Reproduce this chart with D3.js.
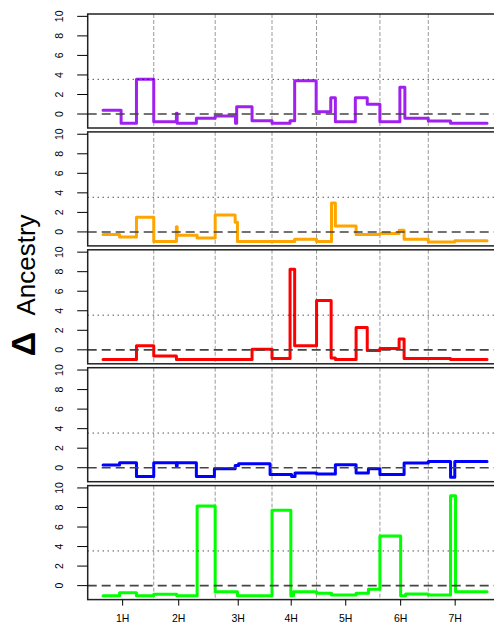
<!DOCTYPE html>
<html>
<head>
<meta charset="utf-8">
<script src="https://cdn.jsdelivr.net/npm/d3@7"></script>
<style>
html,body{margin:0;padding:0;background:#fff;}
svg{display:block;}
text{font-family:"Liberation Sans",Arial,Helvetica,sans-serif;}
</style>
</head>
<body>
<svg id="chart" width="494" height="626"></svg>
<script>
// ---- data ----
const chromosomes = ["1H","2H","3H","4H","5H","6H","7H"];
const chromTicks = [51,197,352,490,632,775,917];          // label positions (genome units)
const chromBounds = [132,292,440,556,721,847];            // boundaries between chromosomes
const genomeEnd = 1000;
const yTicks = [0,2,4,6,8,10];
const threshold = 3.55;
const seriesColors = ["#A020F0","#FFA500","#FF0000","#0000FF","#00FF00"];

// each step: [start position, value]; the last step runs to genomeEnd
const purple = [[0,0.38],[47,-0.95],[87,3.55],[132,-0.79],[191,0.07],[193,-0.95],[243,-0.44],[292,-0.2],[345,-0.95],[348,0.75],[388,-0.68],[440,-0.95],[487,-0.68],[499,3.41],[555,0.24],[593,1.67],[605,-0.79],[657,1.67],[688,0.99],[721,-0.79],[773,2.73],[786,-0.44],[847,-0.72],[905,-0.95]];
const orange = [[0,-0.27],[43,-0.52],[87,1.5],[132,-0.97],[191,0.52],[193,-0.34],[245,-0.62],[292,1.74],[344,1.0],[350,-0.97],[499,-0.76],[556,-0.97],[595,2.96],[605,0.6],[659,-0.27],[721,-0.17],[771,0.18],[784,-0.76],[847,-1.04],[916,-0.9]];
const red = [[0,-1.0],[87,0.41],[132,-0.62],[191,-1.0],[388,0.07],[440,-0.9],[487,8.24],[499,0.41],[556,5.04],[594,-0.83],[605,-1.0],[659,2.28],[688,-0.07],[721,0.14],[771,1.1],[784,-0.9],[905,-1.0]];
const blue = [[0,0.27],[43,0.52],[87,-0.9],[132,0.52],[191,0.17],[193,0.52],[243,-0.9],[290,-0.1],[344,0.24],[353,0.41],[435,-0.69],[491,-0.9],[500,-0.55],[556,-0.65],[605,0.31],[659,-0.55],[691,-0.1],[721,-0.69],[784,0.48],[847,0.65],[905,-0.97],[916,0.65]];
const green = [[0,-1.03],[43,-0.72],[87,-1.03],[132,-0.89],[192,-1.03],[245,8.14],[292,-0.62],[350,-1.03],[440,7.72],[489,-1.03],[496,-0.62],[556,-0.79],[595,-0.97],[659,-0.79],[691,-0.38],[721,5.07],[775,-1.03],[788,-0.86],[847,-0.97],[905,9.2],[918,-0.62]];
const allSeries = [purple, orange, red, blue, green];

// ---- layout ----
const svg = d3.select("#chart");
const left = 87.7, right = 502.4;
const panelTop0 = 14, panelH = 114, panelStep = 117.9;
const x = d3.scaleLinear().domain([-40, 1040]).range([left, right]);
const yDomain = [-1.43, 10.24];

allSeries.forEach((steps, i) => {
  const top = panelTop0 + i * panelStep;
  const bottom = top + panelH;
  const y = d3.scaleLinear().domain(yDomain).range([bottom, top]);
  const g = svg.append("g");

  // chromosome boundaries
  g.selectAll("line.vb").data(chromBounds).enter().append("line")
    .attr("x1", d => x(d)).attr("x2", d => x(d))
    .attr("y1", top).attr("y2", bottom)
    .attr("stroke", "#999").attr("stroke-width", 1)
    .attr("stroke-dasharray", "4,2");

  // step line
  const pts = steps.map(s => [s[0], s[1]]);
  pts.push([genomeEnd, steps[steps.length - 1][1]]);
  const line = d3.line().x(d => x(d[0])).y(d => y(d[1])).curve(d3.curveStepAfter);
  g.append("path").datum(pts).attr("d", line)
    .attr("fill", "none").attr("stroke", seriesColors[i])
    .attr("stroke-width", 3).attr("stroke-linejoin", "round").attr("stroke-linecap", "round");

  // reference lines
  g.append("line").attr("x1", left).attr("x2", right)
    .attr("y1", y(0)).attr("y2", y(0))
    .attr("stroke", "#444").attr("stroke-width", 1.6).attr("stroke-dasharray", "9,5");
  g.append("line").attr("x1", left).attr("x2", right)
    .attr("y1", y(threshold)).attr("y2", y(threshold))
    .attr("stroke", "#000").attr("stroke-width", 1).attr("stroke-dasharray", "1,4");

  // box
  g.append("rect").attr("x", left).attr("y", top)
    .attr("width", right - left).attr("height", panelH)
    .attr("fill", "none").attr("stroke", "#222").attr("stroke-width", 1.5);

  // y axis
  const ax = g.append("g");
  yTicks.forEach(t => {
    ax.append("line").attr("x1", left - 10.5).attr("x2", left)
      .attr("y1", y(t)).attr("y2", y(t)).attr("stroke", "#000").attr("stroke-width", 1);
    ax.append("text")
      .attr("transform", `translate(${left - 25},${y(t)}) rotate(-90)`)
      .attr("text-anchor", "middle").attr("font-size", 10.5).attr("fill", "#000")
      .text(t);
  });

  // x axis on bottom panel
  if (i === allSeries.length - 1) {
    chromTicks.forEach((t, j) => {
      g.append("line").attr("x1", x(t)).attr("x2", x(t))
        .attr("y1", bottom).attr("y2", bottom + 6).attr("stroke", "#000").attr("stroke-width", 1);
      g.append("text").attr("x", x(t)).attr("y", bottom + 22)
        .attr("text-anchor", "middle").attr("font-size", 10.5).attr("fill", "#000")
        .text(chromosomes[j]);
    });
  }
});

// y label
svg.append("text")
  .attr("transform", "translate(35,344) rotate(-90)")
  .attr("text-anchor", "middle").attr("fill", "#000")
  .attr("font-weight", "bold").attr("font-size", 34).text("Δ");
svg.append("text")
  .attr("transform", "translate(35,265) rotate(-90)")
  .attr("text-anchor", "middle").attr("fill", "#000")
  .attr("font-size", 26).text("Ancestry");
</script>
</body>
</html>
